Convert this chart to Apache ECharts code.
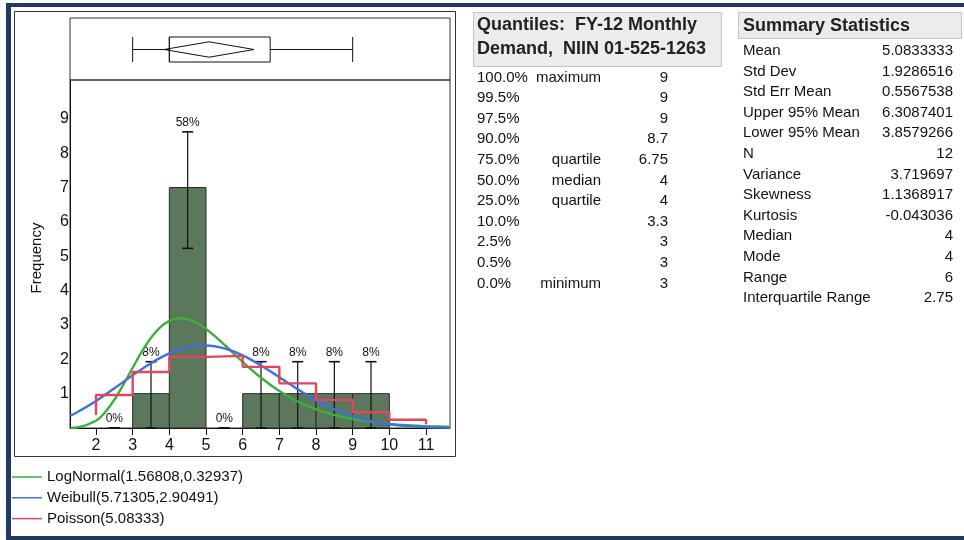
<!DOCTYPE html>
<html><head><meta charset="utf-8">
<script src="https://cdn.jsdelivr.net/npm/echarts@6/dist/echarts.min.js"></script>
<style>html,body{margin:0;padding:0;background:#fff}#c{width:964px;height:540px}</style>
</head><body><div id="c"></div>
<script>
// ---- data ----
const binEdges = [2, 3, 4, 5, 6, 7, 8, 9, 10];
const binCounts = [0, 1, 7, 0, 1, 1, 1, 1];
const binPercentLabels = ['0%', '8%', '58%', '0%', '8%', '8%', '8%', '8%'];
const errLow = [0, 0, 5.23, 0, 0, 0, 0, 0];
const errHigh = [0, 1.93, 8.62, 0, 1.93, 1.93, 1.93, 1.93];
const xTicks = [2, 3, 4, 5, 6, 7, 8, 9, 10, 11];
const yTicks = [1, 2, 3, 4, 5, 6, 7, 8, 9];

const logNormalX = [1.3, 1.5, 2, 2.25, 2.5, 2.75, 3, 3.25, 3.5, 3.75, 4, 4.25, 4.5, 4.75, 5, 5.25, 5.5, 6, 6.5, 7, 7.5, 8, 8.5, 9, 9.5, 10, 10.5, 11, 11.5, 11.65];
const logNormalY = [0.004, 0.019, 0.213, 0.46, 0.82, 1.268, 1.754, 2.223, 2.626, 2.93, 3.12, 3.196, 3.17, 3.059, 2.884, 2.667, 2.425, 1.924, 1.462, 1.075, 0.772, 0.544, 0.379, 0.261, 0.178, 0.121, 0.082, 0.055, 0.037, 0.033];
const weibullX = [1.3, 1.5, 2, 2.5, 3, 3.5, 4, 4.5, 5, 5.5, 6, 6.5, 7, 7.5, 8, 8.5, 9, 9.5, 10, 10.5, 11, 11.5, 11.65];
const weibullY = [0.359, 0.468, 0.788, 1.154, 1.534, 1.886, 2.170, 2.349, 2.401, 2.318, 2.115, 1.821, 1.479, 1.130, 0.811, 0.545, 0.343, 0.201, 0.110, 0.056, 0.026, 0.011, 0.008];
const poissonEdges = [2, 3, 4, 5, 6, 7, 8, 9, 10, 11];
const poissonLevels = [0.96, 1.63, 2.07, 2.10, 1.78, 1.30, 0.82, 0.46, 0.24];
const poissonStart = 0.38;
const poissonEnd = 0.11;

const boxStats = [3, 4, 4, 6.75, 9];              // min, q1, median, q3, max
const meanCI = [3.8579266, 5.0833333, 6.3087401];  // lower, mean, upper

const seriesNames = ['LogNormal(1.56808,0.32937)', 'Weibull(5.71305,2.90491)', 'Poisson(5.08333)'];

const quantileTitle = ['Quantiles:  FY-12 Monthly', 'Demand,  NIIN 01-525-1263'];
const quantilePct = ['100.0%', '99.5%', '97.5%', '90.0%', '75.0%', '50.0%', '25.0%', '10.0%', '2.5%', '0.5%', '0.0%'];
const quantileNote = ['maximum', '', '', '', 'quartile', 'median', 'quartile', '', '', '', 'minimum'];
const quantileVal = ['9', '9', '9', '8.7', '6.75', '4', '4', '3.3', '3', '3', '3'];

const statTitle = 'Summary Statistics';
const statNames = ['Mean', 'Std Dev', 'Std Err Mean', 'Upper 95% Mean', 'Lower 95% Mean', 'N', 'Variance', 'Skewness', 'Kurtosis', 'Median', 'Mode', 'Range', 'Interquartile Range'];
const statValues = ['5.0833333', '1.9286516', '0.5567538', '6.3087401', '3.8579266', '12', '3.719697', '1.1368917', '-0.043036', '4', '4', '6', '2.75'];

// ---- build ----
const FONT = '"Liberation Sans", Arial, sans-serif';
const XMIN = 1.291, XMAX = 11.654;

const binData = binCounts.map((c, i) => [binEdges[i], binEdges[i + 1], c]);
const errData = binCounts.map((c, i) => [(binEdges[i] + binEdges[i + 1]) / 2, errLow[i], errHigh[i], i]);
const poissonData = [[poissonEdges[0], poissonStart]];
poissonLevels.forEach((v, i) => { poissonData.push([poissonEdges[i], v]); poissonData.push([poissonEdges[i + 1], v]); });
poissonData.push([poissonEdges[poissonEdges.length - 1], poissonEnd]);

const graphics = [];
// outer frame
graphics.push({type:'rect', shape:{x:6, y:3, width:958, height:4}, style:{fill:'#1f3b63'}, silent:true});
graphics.push({type:'rect', shape:{x:6, y:3, width:5, height:537}, style:{fill:'#1f3b63'}, silent:true});
graphics.push({type:'rect', shape:{x:6, y:536, width:958, height:4}, style:{fill:'#1f3b63'}, silent:true});
graphics.push({type:'rect', shape:{x:14.5, y:11.5, width:441, height:445}, style:{fill:null, stroke:'#333', lineWidth:1}, silent:true});
// quantiles header
graphics.push({type:'rect', shape:{x:473.5, y:12.5, width:248, height:54}, style:{fill:'#ececec', stroke:'#c4c4c4', lineWidth:1}, silent:true});
quantileTitle.forEach((t, i) => graphics.push({type:'text', x:477, y:25 + i * 24, style:{text:t, font:'bold 18px ' + FONT, fill:'#222', textVerticalAlign:'middle'}}));
quantilePct.forEach((t, i) => {
  const y = 77.5 + i * 20.6;
  graphics.push({type:'text', x:477, y, style:{text:t, font:'15px ' + FONT, fill:'#111', textVerticalAlign:'middle'}});
  if (quantileNote[i]) graphics.push({type:'text', x:601, y, style:{text:quantileNote[i], font:'15px ' + FONT, fill:'#111', textAlign:'right', textVerticalAlign:'middle'}});
  graphics.push({type:'text', x:668, y, style:{text:quantileVal[i], font:'15px ' + FONT, fill:'#111', textAlign:'right', textVerticalAlign:'middle'}});
});
// summary header
graphics.push({type:'rect', shape:{x:738.5, y:12.5, width:223, height:26}, style:{fill:'#ececec', stroke:'#c4c4c4', lineWidth:1}, silent:true});
graphics.push({type:'text', x:743, y:26, style:{text:statTitle, font:'bold 18px ' + FONT, fill:'#222', textVerticalAlign:'middle'}});
statNames.forEach((t, i) => {
  const y = 51 + i * 20.58;
  graphics.push({type:'text', x:743, y, style:{text:t, font:'15px ' + FONT, fill:'#111', textVerticalAlign:'middle'}});
  graphics.push({type:'text', x:953, y, style:{text:statValues[i], font:'15px ' + FONT, fill:'#111', textAlign:'right', textVerticalAlign:'middle'}});
});
// y axis title
graphics.push({type:'text', x:37, y:258, rotation:Math.PI / 2, style:{text:'Frequency', font:'15px ' + FONT, fill:'#111', textAlign:'center', textVerticalAlign:'middle'}});

const chart = echarts.init(document.getElementById('c'), null, {renderer:'canvas'});
chart.setOption({
  animation:false,
  backgroundColor:'#fff',
  graphic:graphics,
  legend:{
    orient:'vertical', left:12, top:469, padding:0, itemWidth:30, itemHeight:1.5, icon:'rect', itemGap:4.8,
    data:seriesNames,
    textStyle:{fontFamily:FONT, fontSize:15, color:'#111', lineHeight:16},
    selectedMode:false
  },
  grid:[
    {left:70, top:18, width:380, height:62, show:true, borderColor:'#333', borderWidth:1, backgroundColor:'transparent'},
    {left:70, top:80, width:380, height:348, show:true, borderColor:'#333', borderWidth:1, backgroundColor:'transparent'}
  ],
  xAxis:[
    {gridIndex:0, type:'value', min:XMIN, max:XMAX, show:false},
    {gridIndex:1, type:'value', min:XMIN, max:XMAX,
      axisLine:{show:true, onZero:false, lineStyle:{color:'#111', width:1}},
      axisTick:{show:true, customValues:xTicks, length:7, lineStyle:{color:'#111'}},
      axisLabel:{customValues:xTicks, color:'#111', fontSize:16, fontFamily:FONT, margin:10},
      splitLine:{show:false}}
  ],
  yAxis:[
    {gridIndex:0, type:'value', min:0, max:1, show:false},
    {gridIndex:1, type:'value', min:0, max:10.13,
      axisLine:{show:true, lineStyle:{color:'#111', width:1}},
      axisTick:{show:false},
      axisLabel:{customValues:yTicks, color:'#111', fontSize:16, fontFamily:FONT, margin:1},
      splitLine:{show:false}}
  ],
  series:[
    {type:'custom', xAxisIndex:0, yAxisIndex:0, z:3, silent:true,
      data:[[boxStats[0], boxStats[1], boxStats[2], boxStats[3], boxStats[4], meanCI[0], meanCI[1], meanCI[2]]],
      encode:{x:[0, 4]},
      renderItem:(params, api) => {
        const v = i => api.value(i);
        const cy = api.coord([v(0), 0.5])[1] + 0.5;
        const X = i => api.coord([v(i), 0.5])[0];
        const st = {stroke:'#111', lineWidth:1, fill:null};
        const hb = 12.5, hd = 7.7;
        return {type:'group', children:[
          {type:'line', shape:{x1:X(0), y1:cy, x2:X(1), y2:cy}, style:st},
          {type:'line', shape:{x1:X(3), y1:cy, x2:X(4), y2:cy}, style:st},
          {type:'line', shape:{x1:X(0), y1:cy - hb, x2:X(0), y2:cy + hb}, style:st},
          {type:'line', shape:{x1:X(4), y1:cy - hb, x2:X(4), y2:cy + hb}, style:st},
          {type:'rect', shape:{x:X(1), y:cy - hb, width:X(3) - X(1), height:2 * hb}, style:st},
          {type:'line', shape:{x1:X(2), y1:cy - hb, x2:X(2), y2:cy + hb}, style:st},
          {type:'polygon', shape:{points:[[X(5), cy], [X(6), cy - hd], [X(7), cy], [X(6), cy + hd]]}, style:st}
        ]};
      }},
    {type:'custom', xAxisIndex:1, yAxisIndex:1, z:2, silent:true, data:binData, encode:{x:[0, 1], y:2},
      renderItem:(params, api) => {
        const c = api.value(2);
        if (!c) return null;
        const p0 = api.coord([api.value(0), 0]), p1 = api.coord([api.value(1), c]);
        return {type:'rect', shape:{x:p0[0], y:p1[1], width:p1[0] - p0[0], height:p0[1] - p1[1]},
          style:{fill:'#5b785c', stroke:'#2a2a2a', lineWidth:1}};
      }},
    {type:'custom', xAxisIndex:1, yAxisIndex:1, z:3, silent:true, data:errData, encode:{x:0, y:[1, 2]},
      renderItem:(params, api) => {
        const x = api.value(0);
        const pl = api.coord([x, api.value(1)]), ph = api.coord([x, api.value(2)]);
        const w = 5.5;
        const st = {stroke:'#111', lineWidth:1.2};
        const idx = api.value(3);
        return {type:'group', children:[
          {type:'line', shape:{x1:pl[0], y1:pl[1], x2:ph[0], y2:ph[1]}, style:st},
          {type:'line', shape:{x1:pl[0] - w, y1:pl[1], x2:pl[0] + w, y2:pl[1]}, style:{stroke:'#111', lineWidth:1.6}},
          {type:'line', shape:{x1:ph[0] - w, y1:ph[1], x2:ph[0] + w, y2:ph[1]}, style:{stroke:'#111', lineWidth:1.6}},
          {type:'text', x:ph[0], y:ph[1] - 9, style:{text:binPercentLabels[idx], font:'12px ' + FONT, fill:'#111', textAlign:'center', textVerticalAlign:'middle'}}
        ]};
      }},
    {name:seriesNames[0], type:'line', xAxisIndex:1, yAxisIndex:1, z:5, smooth:0.4, showSymbol:false, symbol:'none', silent:true,
      color:'#3cae3c', lineStyle:{color:'#3cae3c', width:2.4},
      data:logNormalX.map((x, i) => [x, logNormalY[i]])},
    {name:seriesNames[1], type:'line', xAxisIndex:1, yAxisIndex:1, z:6, smooth:0.4, showSymbol:false, symbol:'none', silent:true,
      color:'#3f6fe0', lineStyle:{color:'#3f6fe0', width:2.4},
      data:weibullX.map((x, i) => [x, weibullY[i]])},
    {name:seriesNames[2], type:'line', xAxisIndex:1, yAxisIndex:1, z:7, showSymbol:false, symbol:'none', silent:true,
      color:'#e0475a', lineStyle:{color:'#e0475a', width:2.4},
      data:poissonData}
  ]
});
</script></body></html>
